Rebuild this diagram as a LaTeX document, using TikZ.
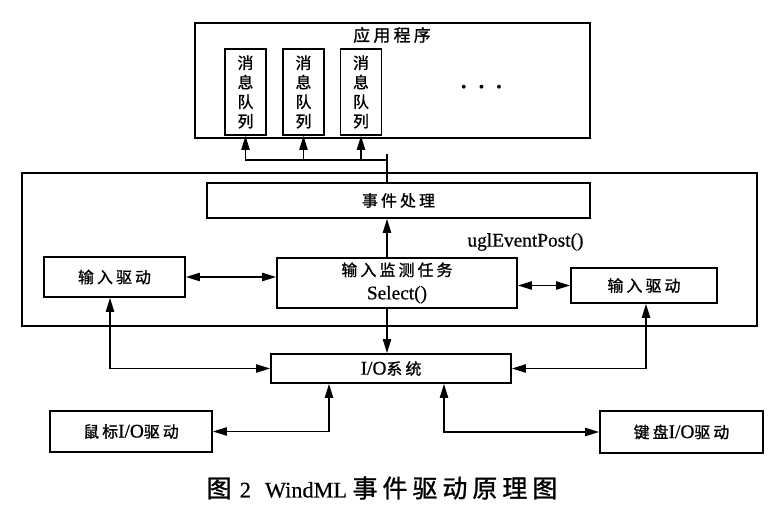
\documentclass[tikz,border=0pt]{standalone}
\usepackage{fontspec}
\setmainfont{Liberation Serif}[FakeBold=0.6]
\newfontfamily\cjk[LetterSpace=20,Scale=0.82,FakeBold=1.2]{Noto Sans CJK SC}
\usepackage{tikz}
\usetikzlibrary{arrows.meta, positioning}

\newcommand{\capcjk}{\fontsize{26}{30}\selectfont\cjk}

\begin{document}
\begin{tikzpicture}[
    font=\fontsize{16.5}{20}\selectfont,
    line width=1.4pt,
    >={Triangle[length=12pt, width=7pt]},
    modbox/.style={draw, rectangle, inner sep=0pt},
    queuebox/.style={draw, rectangle, inner sep=0pt, minimum width=1.23cm, minimum height=2.58cm, align=center, font=\fontsize{16.5}{16.6}\selectfont\cjk}
]
    \useasboundingbox (0,0) rectangle (23.34,-15.51);

    % Aplicacao e filas de mensagens
    \node[modbox, minimum width=11.85cm, minimum height=3.45cm] (app) at (11.775,-2.415) {};
    \node[font=\fontsize{17.5}{20}\selectfont] (apptitle) at (11.76,-1.05) {\cjk 应用程序};
    \node[queuebox] (q1) at (7.365,-2.76) {消\\息\\队\\列};
    \node[queuebox] (q2) at (9.105,-2.76) {消\\息\\队\\列};
    \node[queuebox] (q3) at (10.83,-2.76) {消\\息\\队\\列};
    \node[font=\fontsize{8}{8}\selectfont] (dots) at (14.445,-2.61) {$\bullet$\hspace{10.9pt}$\bullet$\hspace{10.9pt}$\bullet$};

    % Nucleo: tratamento de eventos
    \node[modbox, minimum width=22.05cm, minimum height=4.59cm] (core) at (11.685,-7.485) {};
    \node[modbox, minimum width=11.49cm, minimum height=1.05cm] (evt) at (11.955,-6.015) {\cjk 事件处理};
    \node (ugl) at (15.765,-7.26) {uglEventPost()};
    \node[modbox, minimum width=7.2cm, minimum height=1.5cm, align=center] (mon) at (11.91,-8.49) {{\cjk 输入监测任务}\\ Select()};
    \node[modbox, minimum width=4.23cm, minimum height=1.2cm] (drvL) at (3.435,-8.31) {\cjk 输入驱动};
    \node[modbox, minimum width=4.38cm, minimum height=1.05cm] (drvR) at (19.32,-8.565) {\cjk 输入驱动};

    % E/S e drivers
    \node[modbox, minimum width=7.2cm, minimum height=0.87cm] (io) at (11.73,-11.055) {I/O{\cjk 系统}};
    \node[modbox, minimum width=4.86cm, minimum height=1.23cm] (mouse) at (3.93,-12.945) {{\cjk 鼠标}I/O{\cjk 驱动}};
    \node[modbox, minimum width=4.89cm, minimum height=1.26cm] (kbd) at (20.445,-12.96) {{\cjk 键盘}I/O{\cjk 驱动}};

    \node[font=\fontsize{19}{24}\selectfont] (cap) at (11.46,-14.64) {{\capcjk 图}\hspace{7pt}2\hspace{12pt}WindML\ {\capcjk 事件驱动原理图}};

    % Ligacoes
    \coordinate (bus) at (11.61,-4.8);
    \coordinate (bustop) at (11.61,-4.62);
    \draw (evt.north -| bus) -- (bustop);
    \draw[->] (bus) -| (q1.south);
    \draw[->] (bus -| q2.south) -- (q2.south);
    \draw[->] (bus -| q3.south) -- (q3.south);
    \draw[->] (mon.north -| bus) -- (evt.south -| bus);
    \draw[->] (mon.south -| bus) -- (io.north -| bus);
    \draw[<->] (drvL.east) -- (drvL.east -| mon.west);
    \draw[<->] (drvR.west -| mon.east) -- (drvR.west);
    \draw[<->] ([xshift=-0.135cm]drvL.south) |- (io.west);
    \draw[<->] ([xshift=0.06cm]drvR.south) |- (io.east);
    \draw[<->] ([xshift=-1.86cm]io.south) |- (mouse.east);
    \draw[<->] ([xshift=1.59cm]io.south) |- (kbd.west);
\end{tikzpicture}
\end{document}
